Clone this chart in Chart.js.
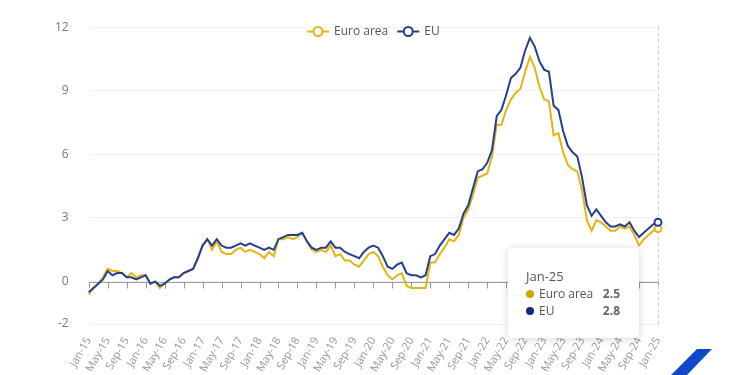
<!DOCTYPE html>
<html>
<head>
<meta charset="utf-8">
<script src="https://cdn.jsdelivr.net/npm/chart.js@4.4.1/dist/chart.umd.min.js"></script>
<style>
  body { margin: 0; background: #fff; font-family: "Open Sans", sans-serif; }
  #wrap { position: relative; width: 750px; height: 375px; overflow: hidden; }
  #tip {
    position: absolute; display: none; box-sizing: border-box; width: 131px;
    background: #fff; border-radius: 4px; box-shadow: 0 1px 9px rgba(0,0,0,0.16);
    padding: 20px 19px 19px 18px; color: #555; pointer-events: none;
  }
  #tip .tt { font-size: 13px; line-height: 17px; }
  #tip .row { display: flex; align-items: center; font-size: 12px; line-height: 17px; }
  #tip .dot { width: 8px; height: 8px; border-radius: 50%; margin-right: 5px; }
  #tip .lab { flex: 1; }
  #tip .val { font-weight: bold; color: #666; }
  #logo {
    position: absolute; left: 671px; top: 349px; width: 42px; height: 26px; background: #1048cc;
    clip-path: polygon(26px 0, 41px 0, 16px 26px, 0 26px);
  }
</style>
</head>
<body>
<div id="wrap">
  <canvas id="inflationChart" width="750" height="375"></canvas>
  <div id="tip"></div>
  <div id="logo"></div>
</div>
<script>
// monthly labels Jan-15 .. Jan-25
const monthNames = ['Jan', 'Feb', 'Mar', 'Apr', 'May', 'Jun', 'Jul', 'Aug', 'Sep', 'Oct', 'Nov', 'Dec'];
const yearCodes = ['15', '16', '17', '18', '19', '20', '21', '22', '23', '24', '25'];
const labels = [];
yearCodes.forEach(y => monthNames.forEach(m => labels.push(m + '-' + y)));
labels.length = 121;

const euroArea = [
  -0.6, -0.3, -0.1, 0.2, 0.6, 0.5, 0.5, 0.4, 0.2, 0.4, 0.2, 0.3,
  0.3, -0.1, 0.0, -0.3, -0.1, 0.1, 0.2, 0.2, 0.4, 0.5, 0.6, 1.1,
  1.7, 2.0, 1.5, 1.9, 1.4, 1.3, 1.3, 1.5, 1.6, 1.4, 1.5, 1.4,
  1.3, 1.1, 1.4, 1.2, 2.0, 2.0, 2.1, 2.0, 2.1, 2.3, 1.9, 1.5,
  1.4, 1.5, 1.4, 1.7, 1.2, 1.3, 1.0, 1.0, 0.8, 0.7, 1.0, 1.3,
  1.4, 1.2, 0.7, 0.3, 0.1, 0.3, 0.4, -0.2, -0.3, -0.3, -0.3, -0.3,
  0.9, 0.9, 1.3, 1.6, 2.0, 1.9, 2.2, 3.0, 3.4, 4.1, 4.9, 5.0,
  5.1, 5.9, 7.4, 7.4, 8.1, 8.6, 8.9, 9.1, 9.9, 10.6, 10.1, 9.2,
  8.6, 8.5, 6.9, 7.0, 6.1, 5.5, 5.3, 5.2, 4.3, 2.9, 2.4, 2.9,
  2.8, 2.6, 2.4, 2.4, 2.6, 2.5, 2.6, 2.2, 1.7, 2.0, 2.2, 2.4,
  2.5
];
const eu = [
  -0.5, -0.3, -0.1, 0.1, 0.5, 0.3, 0.4, 0.4, 0.2, 0.2, 0.1, 0.2,
  0.3, -0.1, 0.0, -0.2, -0.1, 0.1, 0.2, 0.2, 0.4, 0.5, 0.6, 1.1,
  1.7, 2.0, 1.7, 2.0, 1.7, 1.6, 1.6, 1.7, 1.8, 1.7, 1.8, 1.7,
  1.6, 1.5, 1.6, 1.5, 2.0, 2.1, 2.2, 2.2, 2.2, 2.3, 1.9, 1.6,
  1.5, 1.6, 1.6, 1.9, 1.6, 1.6, 1.4, 1.3, 1.2, 1.1, 1.4, 1.6,
  1.7, 1.6, 1.2, 0.7, 0.6, 0.8, 0.9, 0.4, 0.3, 0.3, 0.2, 0.3,
  1.2, 1.3, 1.7, 2.0, 2.3, 2.2, 2.5, 3.2, 3.6, 4.4, 5.2, 5.3,
  5.6, 6.2, 7.8, 8.1, 8.8, 9.6, 9.8, 10.1, 10.9, 11.5, 11.1, 10.4,
  10.0, 9.9, 8.3, 8.1, 7.1, 6.4, 6.1, 5.9, 4.9, 3.6, 3.1, 3.4,
  3.1, 2.8, 2.6, 2.6, 2.7, 2.6, 2.8, 2.4, 2.1, 2.3, 2.5, 2.7,
  2.8
];
const yTicks = [-2, 0, 3, 6, 9, 12];

const lineColors = ['#e6b410', '#243f90'];
const dotColors = ['#d4a400', '#0d2b7a'];

// x axis line drawn through zero with tick marks, plus hover crosshair
const zeroAxis = {
  id: 'zeroAxis',
  beforeDatasetsDraw(chart) {
    const { ctx, chartArea, scales } = chart;
    const y0 = Math.round(scales.y.getPixelForValue(0)) + 0.5;
    ctx.save();
    ctx.strokeStyle = '#9a9a9a';
    ctx.lineWidth = 1;
    ctx.beginPath();
    ctx.moveTo(chartArea.left, y0);
    ctx.lineTo(chartArea.right, y0);
    for (let i = 0; i < labels.length; i += 4) {
      const x = Math.round(scales.x.getPixelForValue(i)) + 0.5;
      ctx.moveTo(x, y0);
      ctx.lineTo(x, y0 + 6);
    }
    ctx.stroke();
    const act = chart.tooltip.getActiveElements();
    if (act.length) {
      const x = Math.round(act[0].element.x) + 0.5;
      ctx.strokeStyle = '#c9ccd6';
      ctx.setLineDash([3, 3]);
      ctx.beginPath();
      ctx.moveTo(x, chartArea.top);
      ctx.lineTo(x, chartArea.bottom);
      ctx.stroke();
    }
    ctx.restore();
  }
};

const topLegend = {
  id: 'topLegend',
  afterDraw(chart) {
    const ctx = chart.ctx;
    ctx.save();
    ctx.font = '12px "Open Sans"';
    const items = chart.data.datasets.map(ds => ({ text: ds.label, color: ds.borderColor, w: ctx.measureText(ds.label).width }));
    const lineW = 22, gapText = 5, gapItem = 9;
    const total = items.reduce((s, it) => s + lineW + gapText + it.w, 0) + gapItem * (items.length - 1);
    let x = (chart.chartArea.left + chart.chartArea.right) / 2 - total / 2;
    const y = 31.5;
    items.forEach(it => {
      ctx.strokeStyle = it.color;
      ctx.lineWidth = 2;
      ctx.beginPath();
      ctx.moveTo(x, y);
      ctx.lineTo(x + lineW, y);
      ctx.stroke();
      ctx.beginPath();
      ctx.arc(x + lineW / 2, y, 4.5, 0, Math.PI * 2);
      ctx.fillStyle = '#fff';
      ctx.fill();
      ctx.stroke();
      ctx.fillStyle = '#555';
      ctx.textBaseline = 'middle';
      ctx.fillText(it.text, x + lineW + gapText, y + 0.5);
      x += lineW + gapText + it.w + gapItem;
    });
    ctx.restore();
  }
};

function externalTip(context) {
  const { tooltip } = context;
  const el = document.getElementById('tip');
  if (tooltip.opacity === 0) { el.style.display = 'none'; return; }
  const pts = tooltip.dataPoints.slice().sort((a, b) => a.datasetIndex - b.datasetIndex);
  let html = '<div class="tt">' + tooltip.title[0] + '</div>';
  pts.forEach(p => {
    html += '<div class="row"><span class="dot" style="background:' + dotColors[p.datasetIndex] + '"></span>' +
      '<span class="lab">' + p.dataset.label + '</span><span class="val">' + p.formattedValue + '</span></div>';
  });
  el.innerHTML = html;
  el.style.display = 'block';
  el.style.left = (tooltip.caretX - 19 - el.offsetWidth) + 'px';
  el.style.top = (tooltip.caretY + 23) + 'px';
}

const ctx = document.getElementById('inflationChart').getContext('2d');
const inflationChart = new Chart(ctx, {
  type: 'line',
  data: {
    labels: labels,
    datasets: [{
      label: 'Euro area',
      data: euroArea,
      borderColor: lineColors[0],
      backgroundColor: lineColors[0],
      pointHoverBorderColor: lineColors[0],
      order: 1
    }, {
      label: 'EU',
      data: eu,
      borderColor: lineColors[1],
      backgroundColor: lineColors[1],
      pointHoverBorderColor: lineColors[1],
      order: 0
    }]
  },
  options: {
    responsive: false,
    animation: false,
    events: [],
    layout: { padding: { left: 35, right: 92, top: 11, bottom: 0 } },
    elements: {
      line: { borderWidth: 2, tension: 0 },
      point: { radius: 0, hoverRadius: 3.5, hoverBorderWidth: 2, hoverBackgroundColor: '#fff' }
    },
    datasets: { line: { clip: false } },
    interaction: { mode: 'index', intersect: false },
    scales: {
      x: {
        grid: { display: false },
        border: { display: false },
        afterFit: scale => { scale.height = 51; },
        ticks: {
          autoSkip: false,
          minRotation: 60,
          maxRotation: 60,
          padding: 3,
          color: '#959595',
          font: { family: '"Open Sans"', size: 11 },
          callback: (v, i) => (i % 4 === 0 ? labels[i] : null)
        }
      },
      y: {
        min: -2,
        max: 12,
        afterBuildTicks: scale => { scale.ticks = yTicks.map(v => ({ value: v })); },
        grid: { color: '#edf0f7', drawTicks: false },
        border: { display: false },
        ticks: { padding: 20, color: '#777', font: { family: '"Open Sans"', size: 12 } }
      }
    },
    plugins: {
      legend: { display: false },
      tooltip: { enabled: false, external: externalTip }
    }
  },
  plugins: [zeroAxis, topLegend]
});

const last = labels.length - 1;
const active = [{ datasetIndex: 0, index: last }, { datasetIndex: 1, index: last }];
inflationChart.setActiveElements(active);
inflationChart.tooltip.setActiveElements(active, { x: 0, y: 0 });
inflationChart.update();
</script>
</body>
</html>
